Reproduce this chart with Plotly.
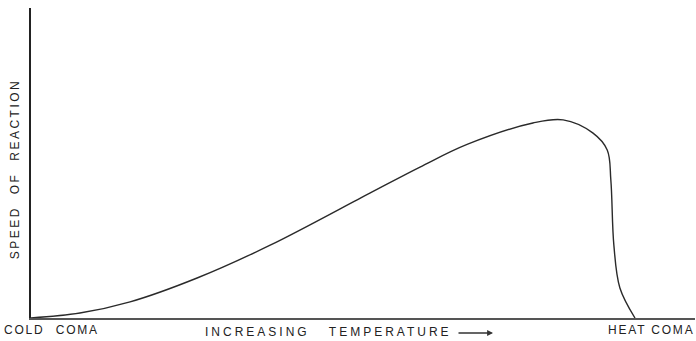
import plotly.graph_objects as go

# Temperature (arbitrary units: 0 = cold coma, 100 = heat coma)
temperature = [0, 8.1, 16.4, 27.5, 39.6, 56.1, 64.4, 72.2, 83.1, 88.1, 93.0,
               95.4, 96.0, 96.5, 97.5, 100]
# Speed of reaction (arbitrary units)
speed = [0, 1.6, 5.2, 12.9, 23.5, 40.3, 48.7, 56.0, 62.9, 63.9, 59.7,
         54.2, 44.5, 23.5, 9.7, 0]

labels = ["COLD COMA", "INCREASING TEMPERATURE", "HEAT COMA", "SPEED OF REACTION"]

fig = go.Figure()
fig.add_trace(go.Scatter(
    x=temperature, y=speed, mode="lines",
    line=dict(color="#2a2a2a", width=1.4, shape="spline", smoothing=1.0),
    hoverinfo="skip", showlegend=False,
))

font = dict(family="Liberation Sans, Arial, sans-serif", size=12, color="#222")
W, H = 696, 341
L, R, T, B = 31, 1, 8, 23
pw, ph = W - L - R, H - T - B

def px(x):
    return (x - L) / pw

def ann(text, x, yshift, f=font, **kw):
    fig.add_annotation(text=text, xref="paper", yref="paper", x=px(x), y=0,
                       xanchor="left", align="left", yanchor="middle",
                       yshift=yshift, showarrow=False, font=f, **kw)

ann(labels[0], 2, -12)
ann(labels[1], 203, -14)
ann(labels[2], 606, -12)
fig.add_annotation(text=labels[3], xref="paper", yref="paper", x=0, y=(318 - 169) / ph,
                   xanchor="center", yanchor="middle", xshift=-16, textangle=-90,
                   showarrow=False, font=font)
# arrow after "TEMPERATURE"
fig.add_annotation(text="", xref="paper", yref="paper", x=px(493), y=-15 / ph,
                   ax=-36, ay=0, showarrow=True, arrowhead=2, arrowsize=0.9,
                   arrowwidth=1.3, arrowcolor="#333")

fig.update_xaxes(range=[0, 664 / 6.04], showline=True, linecolor="#555", linewidth=2,
                 showgrid=False, zeroline=False, showticklabels=False, ticks="")
fig.update_yaxes(range=[0, 100], showline=True, linecolor="#222", linewidth=1.5,
                 showgrid=False, zeroline=False, showticklabels=False, ticks="")
fig.update_layout(width=W, height=H, margin=dict(l=L, r=R, t=T, b=B),
                  plot_bgcolor="white", paper_bgcolor="white")

js = """
document.body.style.margin = '0';
var sp = {'COLD COMA': [1.8, 6], 'INCREASING TEMPERATURE': [3.0, 13],
          'HEAT COMA': [1.8, 0], 'SPEED OF REACTION': [2.5, 6]};
document.querySelectorAll('.annotation-text').forEach(function(t){
  var v = sp[t.textContent];
  if (v) { t.style.letterSpacing = v[0] + 'px'; t.style.wordSpacing = v[1] + 'px'; }
});
"""
fig.write_html("out.html", post_script=js, config={"displayModeBar": False})
